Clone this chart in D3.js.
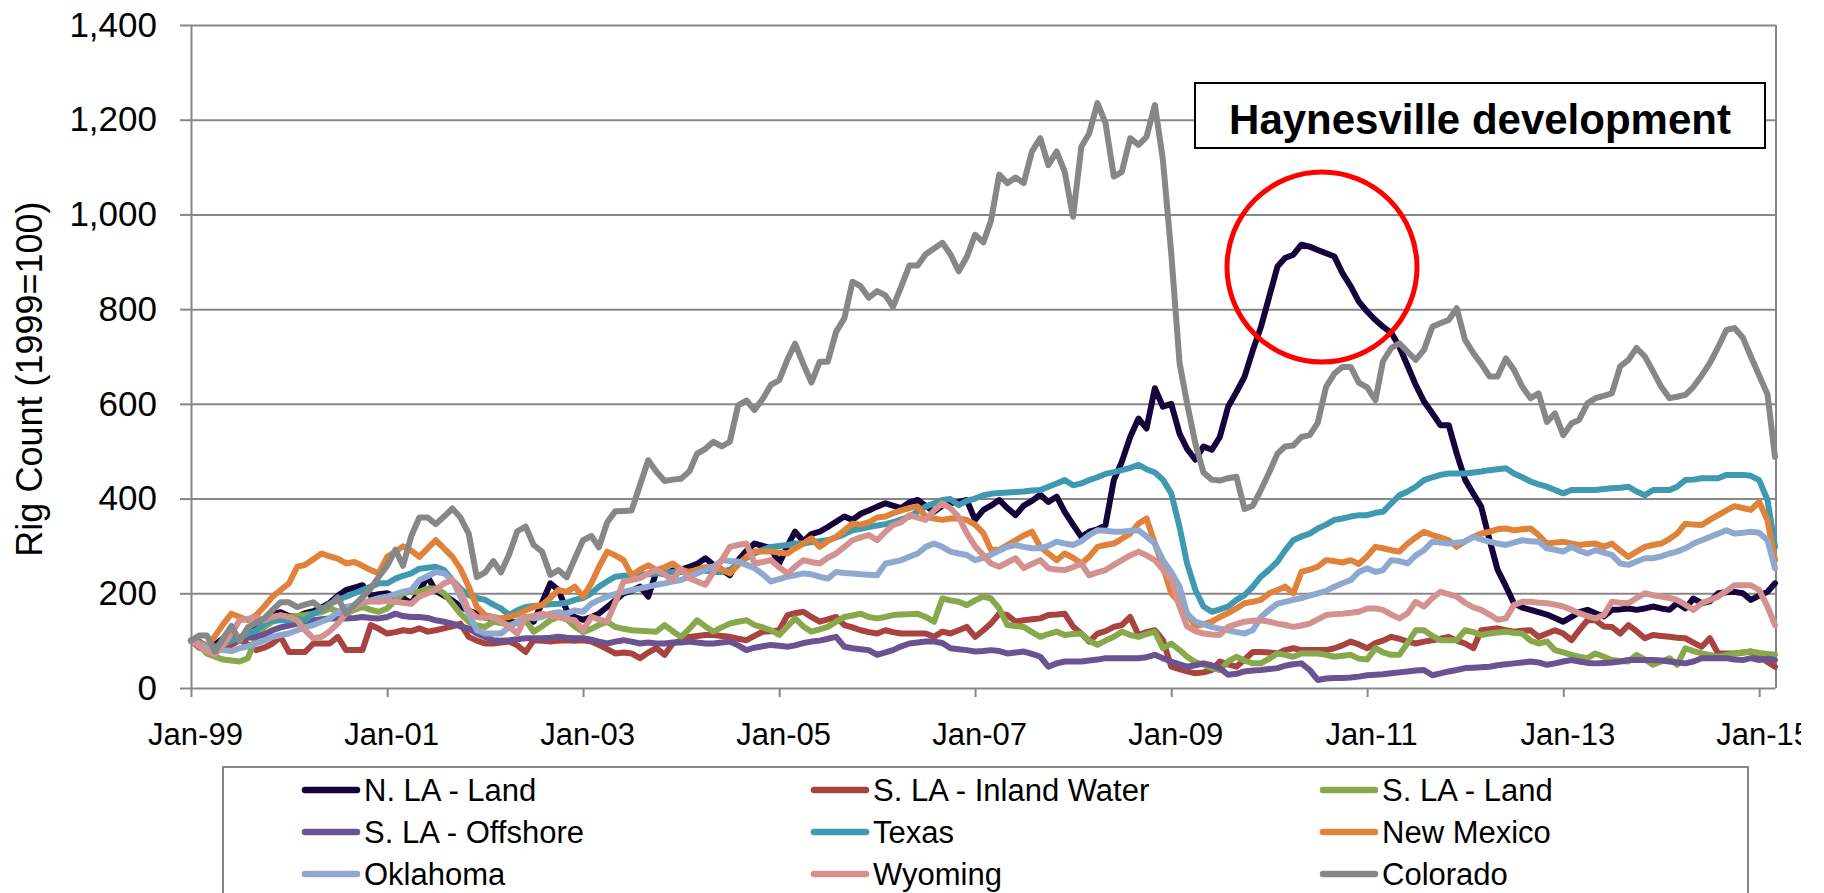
<!DOCTYPE html>
<html>
<head>
<meta charset="utf-8">
<script src="https://cdnjs.cloudflare.com/ajax/libs/d3/7.8.5/d3.min.js"></script>
<style>
    body { margin: 0; background: #fff; }
    text { font-family: Arial, "Liberation Sans", sans-serif; fill: #000; }
</style>
</head>
<body>
<div id="chart"></div>
<script>

/*
Data - monthly rig counts indexed to 1999=100, Jan-99 .. Mar-15
 */

var months = d3.timeMonth.range(new Date(1999, 0, 1), new Date(2015, 3, 1));

var nlaLand = [
    100, 98, 82, 92, 105, 112, 102, 118, 128, 140, 157, 160,
    152, 150, 158, 162, 170, 180, 195, 207, 212, 217, 195, 198,
    200, 193, 190, 179, 205, 235, 205, 195, 185, 172, 163, 157,
    150, 143, 145, 140, 138, 142, 140, 180, 221, 207, 164, 150,
    144, 150, 157, 171, 185, 200, 205, 214, 193, 245, 240, 248,
    250, 256, 262, 274, 260, 250, 238, 270, 290, 305, 300, 295,
    263, 300, 330, 310, 325, 330, 340, 351, 362, 355, 368, 375,
    383, 390, 385, 380, 392, 397, 385, 372, 385, 390, 393, 397,
    355, 376, 385, 397, 380, 365, 385, 395, 408, 393, 404, 372,
    345, 319, 330, 335, 344, 439, 478, 530, 569, 548, 633, 594,
    600, 537, 505, 482, 510, 503, 530, 594, 625, 657, 713, 762,
    826, 890, 908, 915, 936, 932, 925, 918, 911, 876, 848, 816,
    795, 777, 763, 750, 721, 680, 640, 605, 580, 555, 555, 495,
    440, 410, 383, 313, 250, 215, 179, 170, 165, 160, 155, 148,
    140, 150, 160, 165, 158, 151, 165, 166, 168, 165, 168, 172,
    168, 165, 179, 168, 189, 179, 183, 200, 202, 203, 200, 186,
    195, 203, 221
];

var slaInlandWater = [
    100, 85, 80, 80, 85, 91, 101, 92, 80, 85, 94, 108,
    76, 76, 76, 94, 94, 94, 108, 80, 80, 80, 133, 125,
    115, 118, 122, 120, 126, 119, 122, 126, 130, 136, 108, 100,
    94, 94, 96, 98, 90, 76, 101, 100, 98, 100, 101, 100,
    101, 98, 91, 82, 73, 75, 73, 63, 75, 84, 70, 94,
    100, 108, 110, 112, 112, 110, 108, 104, 101, 110, 119, 120,
    122, 154, 158, 161, 150, 140, 145, 150, 133, 128, 122, 118,
    115, 122, 118, 115, 115, 115, 115, 108, 119, 115, 122, 129,
    108, 122, 136, 157, 154, 140, 143, 145, 147, 154, 155, 157,
    130, 115, 98, 115, 120, 129, 133, 150, 112, 118, 122, 101,
    45, 40, 35, 31, 33, 38, 56, 50, 45, 60, 76, 76,
    75, 73, 80, 84, 80, 80, 80, 80, 84, 90, 98, 92,
    84, 95, 100, 108, 104, 98, 94, 98, 101, 104, 108, 100,
    94, 84, 122, 124, 126, 122, 119, 121, 122, 108, 115, 122,
    115, 101, 122, 143, 143, 130, 129, 115, 133, 120, 105, 112,
    110, 108, 106, 105, 96, 87, 105, 73, 73, 73, 75, 77,
    66, 55, 45
];

var slaLand = [
    100, 90, 73, 66, 60, 58, 56, 63, 108, 129, 140, 145,
    150, 152, 154, 157, 160, 168, 162, 157, 165, 171, 165, 161,
    168, 185, 200, 203, 203, 210, 210, 200, 178, 157, 140, 132,
    129, 140, 137, 133, 138, 143, 119, 130, 143, 150, 145, 130,
    118, 125, 133, 140, 129, 125, 122, 121, 120, 119, 133, 120,
    108, 125, 143, 130, 119, 128, 136, 140, 143, 133, 128, 122,
    112, 130, 147, 130, 119, 124, 129, 140, 150, 153, 157, 150,
    147, 150, 154, 155, 156, 157, 150, 140, 189, 185, 182, 175,
    185, 193, 189, 168, 133, 131, 129, 118, 108, 114, 119, 112,
    114, 115, 100, 91, 100, 108, 119, 112, 108, 114, 119, 84,
    94, 80, 66, 55, 49, 42, 38, 56, 66, 58, 52, 52,
    62, 73, 70, 66, 73, 73, 73, 70, 66, 68, 70, 62,
    60, 84, 75, 70, 70, 95, 122, 122, 110, 101, 101, 101,
    122, 118, 112, 115, 117, 119, 116, 115, 100, 94, 98, 80,
    75, 70, 66, 63, 73, 66, 59, 57, 56, 70, 60, 49,
    56, 63, 49, 84, 78, 73, 70, 66, 70, 73, 75, 77,
    74, 72, 70
];

var slaOffshore = [
    100, 92, 85, 88, 95, 101, 103, 106, 108, 113, 122, 128,
    132, 136, 140, 143, 145, 147, 147, 147, 148, 150, 148, 147,
    150, 157, 152, 150, 150, 148, 143, 140, 136, 130, 126, 115,
    108, 101, 100, 101, 103, 105, 105, 105, 106, 108, 106, 105,
    105, 102, 98, 94, 98, 101, 98, 94, 96, 94, 94, 96,
    96, 98, 96, 94, 94, 96, 98, 90, 80, 85, 88, 91,
    89, 87, 90, 95, 98, 100, 104, 108, 87, 84, 82, 80,
    70, 75, 80, 88, 94, 96, 98, 98, 95, 84, 82, 80,
    77, 78, 80, 78, 73, 75, 77, 72, 66, 45, 52, 56,
    56, 56, 58, 60, 63, 63, 63, 63, 63, 65, 70, 63,
    56, 50, 45, 48, 52, 48, 42, 28, 30, 35, 37, 38,
    40, 42, 47, 50, 52, 38, 17, 20, 21, 21, 22, 24,
    27, 28, 29, 31, 33, 35, 37, 38, 27, 31, 35, 38,
    42, 43, 44, 45, 48, 50, 52, 54, 56, 54, 49, 52,
    56, 59, 56, 53, 52, 53, 54, 56, 59, 59, 59, 59,
    58, 56, 54, 52, 56, 63, 63, 63, 63, 60, 59, 63,
    59, 62, 59
];

var texas = [
    100, 97, 90, 85, 92, 100, 107, 115, 122, 135, 143, 143,
    143, 145, 143, 157, 165, 178, 185, 193, 200, 207, 214, 221,
    221, 231, 237, 242, 252, 254, 256, 249, 228, 210, 196, 190,
    186, 176, 168, 154, 164, 171, 173, 175, 177, 178, 180, 186,
    190, 200, 214, 225, 235, 237, 238, 240, 240, 242, 243, 245,
    245, 245, 246, 248, 245, 245, 250, 262, 275, 284, 292, 298,
    300, 302, 305, 305, 308, 310, 312, 318, 325, 333, 336, 340,
    343, 346, 350, 356, 362, 372, 383, 390, 397, 399, 386, 395,
    400, 407, 410, 412, 413, 414, 415, 417, 418, 425, 432, 439,
    428, 432, 439, 445, 452, 456, 460, 465, 471, 462, 455, 440,
    411, 340, 263, 207, 172, 161, 166, 172, 186, 196, 214, 235,
    250, 267, 290, 312, 320, 326, 337, 345, 355, 358, 362, 365,
    365, 370, 372, 390, 407, 415, 425, 439, 445, 450, 453, 453,
    453, 455, 457, 460, 462, 464, 453, 445, 436, 430, 425, 418,
    411, 418, 418, 418, 418, 420, 422, 423, 425, 415, 407, 418,
    418, 418, 425, 439, 440, 443, 443, 443, 450, 450, 450, 448,
    439, 397, 298
];

var newMexico = [
    100, 95, 88, 110, 135, 157, 150, 143, 154, 172, 193, 207,
    221, 256, 260, 272, 284, 278, 273, 263, 266, 258, 249, 242,
    277, 288, 299, 290, 277, 295, 312, 295, 277, 252, 214, 172,
    154, 150, 147, 150, 155, 164, 171, 175, 190, 207, 203, 214,
    193, 221, 255, 288, 280, 270, 238, 250, 259, 249, 255, 263,
    250, 245, 250, 255, 256, 250, 242, 260, 277, 288, 288, 288,
    286, 284, 295, 305, 316, 298, 310, 319, 333, 347, 345, 350,
    360, 362, 369, 375, 380, 383, 362, 358, 355, 358, 358, 355,
    345, 327, 292, 292, 302, 312, 322, 330, 298, 284, 270, 284,
    275, 263, 277, 298, 302, 305, 315, 326, 347, 358, 305, 256,
    200, 180, 158, 130, 135, 140, 150, 158, 168, 179, 182, 186,
    200, 207, 214, 200, 245, 250, 256, 270, 268, 265, 270, 262,
    278, 298, 295, 291, 288, 305, 318, 330, 323, 318, 312, 298,
    310, 319, 326, 330, 335, 337, 333, 335, 337, 323, 305, 307,
    309, 305, 302, 304, 305, 298, 305, 290, 277, 288, 298, 302,
    305, 315, 326, 347, 345, 344, 355, 365, 375, 384, 380, 376,
    393, 354, 270
];

var oklahoma = [
    100, 92, 85, 81, 80, 78, 84, 88, 94, 100, 108, 112,
    115, 122, 128, 133, 140, 147, 160, 171, 175, 178, 185, 190,
    193, 198, 203, 207, 228, 236, 245, 242, 228, 193, 157, 122,
    115, 115, 115, 129, 140, 150, 147, 150, 157, 160, 157, 164,
    161, 178, 186, 193, 198, 203, 207, 210, 214, 218, 221, 225,
    228, 235, 242, 250, 256, 270, 268, 267, 260, 253, 240, 225,
    230, 235, 238, 242, 240, 235, 231, 245, 243, 242, 240, 239,
    238, 263, 266, 270, 277, 284, 298, 305, 298, 288, 284, 281,
    270, 275, 281, 290, 298, 302, 298, 295, 295, 300, 309, 305,
    302, 310, 323, 333, 332, 330, 330, 332, 333, 320, 305, 270,
    245, 214, 157, 140, 135, 129, 125, 122, 118, 115, 122, 150,
    165, 178, 182, 186, 190, 195, 200, 205, 214, 221, 228, 245,
    253, 245, 249, 270, 268, 263, 280, 291, 309, 307, 305, 307,
    309, 319, 314, 309, 305, 302, 307, 312, 310, 309, 295, 292,
    288, 298, 290, 284, 291, 286, 281, 263, 260, 267, 274, 274,
    278, 284, 288, 295, 305, 312, 319, 326, 333, 326, 328, 330,
    328, 312, 253
];

var wyoming = [
    100, 88, 78, 71, 91, 115, 143, 146, 150, 143, 150, 154,
    150, 143, 122, 105, 108, 120, 136, 157, 171, 182, 183, 182,
    184, 182, 180, 178, 193, 200, 207, 221, 228, 205, 164, 150,
    148, 150, 140, 129, 115, 150, 152, 157, 153, 150, 146, 143,
    122, 150, 145, 140, 180, 225, 228, 232, 242, 249, 240, 228,
    252, 232, 225, 218, 245, 270, 298, 302, 305, 263, 266, 270,
    255, 242, 256, 270, 266, 263, 275, 284, 298, 312, 318, 323,
    312, 330, 344, 350, 365, 360, 355, 375, 390, 380, 361, 327,
    299, 280, 263, 256, 265, 274, 253, 262, 270, 253, 250, 249,
    255, 263, 238, 244, 249, 260, 270, 280, 288, 280, 270, 250,
    228, 172, 130, 120, 115, 113, 112, 129, 135, 140, 142, 143,
    140, 136, 133, 129, 132, 136, 145, 154, 156, 157, 159, 161,
    168, 168, 165, 155, 147, 158, 182, 172, 190, 203, 198, 193,
    180, 170, 165, 155, 144, 147, 175, 182, 182, 180, 179, 176,
    172, 165, 158, 152, 147, 154, 182, 180, 179, 190, 200, 196,
    193, 190, 186, 176, 165, 179, 186, 193, 205, 217, 217, 217,
    207, 172, 133
];

var colorado = [
    100, 111, 111, 77, 105, 131, 99, 128, 138, 147, 165, 181,
    181, 171, 176, 181, 167, 175, 191, 157, 175, 192, 210, 235,
    258, 292, 258, 321, 360, 360, 346, 362, 379, 360, 326, 234,
    244, 268, 244, 283, 331, 341, 302, 288, 239, 249, 234, 273,
    312, 321, 297, 350, 373, 374, 375, 428, 481, 457, 437, 440,
    442, 457, 495, 505, 520, 510, 520, 597, 607, 587, 611, 640,
    650, 694, 727, 684, 645, 689, 689, 752, 781, 858, 848, 824,
    838, 829, 805, 848, 892, 892, 916, 928, 940, 916, 880, 910,
    957, 941, 986, 1084, 1066, 1078, 1066, 1133, 1161, 1104, 1133, 1090,
    995, 1143, 1171, 1235, 1193, 1080, 1090, 1161, 1147, 1164, 1231, 1115,
    918, 686, 601, 516, 455, 440, 438, 443, 446, 378, 385, 418,
    455, 495, 510, 512, 530, 534, 560, 636, 664, 678, 678, 645,
    635, 608, 690, 718, 728, 710, 693, 714, 763, 770, 777, 802,
    735, 707, 685, 658, 658, 696, 672, 636, 612, 622, 562, 580,
    534, 559, 566, 601, 612, 617, 622, 679, 693, 718, 700, 669,
    636, 612, 615, 619, 636, 660, 686, 720, 756, 760, 740, 700,
    660, 620, 488
];

var seriesNames = ["N. LA - Land", "S. LA - Inland Water", "S. LA - Land",
    "S. LA - Offshore", "Texas", "New Mexico", "Oklahoma", "Wyoming", "Colorado"];
var seriesValues = [nlaLand, slaInlandWater, slaLand, slaOffshore,
    texas, newMexico, oklahoma, wyoming, colorado];
var seriesColors = ["#17033b", "#a9433f", "#87a84b", "#6b5391",
    "#3f99b1", "#e0823a", "#8ea8d0", "#d39190", "#878787"];

var yTicks = [0, 200, 400, 600, 800, 1000, 1200, 1400];
var xTickYears = [1999, 2001, 2003, 2005, 2007, 2009, 2011, 2013, 2015];

var annotationText = "Haynesville development";
var yTitle = "Rig Count (1999=100)";

/*
Chart
 */

var plotLeft = 191, plotRight = 1776, plotTop = 25, plotBottom = 688;
var gridColor = "#878787";

var svg = d3.select("#chart")
    .append("svg")
    .attr("width", 1824)
    .attr("height", 893)
    .style("display", "block")
    .style("background", "#fff");

var x = d3.scaleTime()
    .domain([months[0], months[months.length - 1]])
    .range([plotLeft, plotRight - 1]);

var y = d3.scaleLinear()
    .domain([0, 1400])
    .range([plotBottom, plotTop]);

//gridlines (drawn with an axis, no labels)
svg.append("g")
    .attr("transform", "translate(" + plotLeft + ",0)")
    .call(d3.axisLeft(y).tickValues(yTicks.slice(1)).tickSize(-(plotRight - plotLeft)).tickSizeOuter(0).tickFormat(""))
    .call(function(g) {
        g.select(".domain").remove();
        g.selectAll("line").attr("stroke", gridColor).attr("stroke-width", 2);
    });

//right border of the plot area
svg.append("line")
    .attr("x1", plotRight).attr("x2", plotRight)
    .attr("y1", plotTop).attr("y2", plotBottom)
    .attr("stroke", gridColor)
    .attr("stroke-width", 2);

//y axis
svg.append("g")
    .attr("transform", "translate(" + plotLeft + ",0)")
    .call(d3.axisLeft(y).tickValues(yTicks).tickSize(11).tickSizeOuter(0).tickPadding(23).tickFormat(d3.format(",")))
    .call(function(g) {
        g.select(".domain").attr("stroke", gridColor).attr("stroke-width", 2);
        g.selectAll("line").attr("stroke", gridColor).attr("stroke-width", 2);
        g.selectAll("text")
            .style("font-size", "35px")
            .style("font-family", "Arial, 'Liberation Sans', sans-serif")
            .attr("fill", "#000");
    });

//x axis - the last label is cut off at the picture edge, as in the original
svg.append("clipPath")
    .attr("id", "xclip")
    .append("rect")
    .attr("x", 0).attr("y", -20)
    .attr("width", 1801).attr("height", 120);

svg.append("g")
    .attr("transform", "translate(0," + plotBottom + ")")
    .attr("clip-path", "url(#xclip)")
    .call(d3.axisBottom(x)
        .tickValues(xTickYears.map(function(yr) { return new Date(yr, 0, 1); }))
        .tickSize(9).tickSizeOuter(0).tickPadding(26)
        .tickFormat(d3.timeFormat("%b-%y")))
    .call(function(g) {
        g.select(".domain").attr("stroke", gridColor).attr("stroke-width", 2);
        g.selectAll("line").attr("stroke", gridColor).attr("stroke-width", 2);
        g.selectAll("text")
            .attr("dx", 4)
            .style("font-size", "31px")
            .style("font-family", "Arial, 'Liberation Sans', sans-serif")
            .attr("fill", "#000");
    });

//y axis title
svg.append("text")
    .attr("transform", "translate(42,379) rotate(-90)")
    .attr("text-anchor", "middle")
    .style("font-size", "36px")
    .text(yTitle);

//series lines, Colorado last so it sits on top
var line = d3.line()
    .x(function(d, i) { return x(months[i]); })
    .y(function(d) { return y(d); });

svg.append("g")
    .selectAll("path")
    .data(seriesValues)
    .enter()
    .append("path")
    .attr("d", line)
    .attr("fill", "none")
    .attr("stroke", function(d, i) { return seriesColors[i]; })
    .attr("stroke-width", 6)
    .attr("stroke-linejoin", "round")
    .attr("stroke-linecap", "round");

//annotation box
svg.append("rect")
    .attr("x", 1195).attr("y", 83)
    .attr("width", 570).attr("height", 65)
    .attr("fill", "#fff")
    .attr("stroke", "#000")
    .attr("stroke-width", 2);

svg.append("text")
    .attr("x", 1480).attr("y", 134)
    .attr("text-anchor", "middle")
    .style("font-size", "42px")
    .style("font-weight", "bold")
    .text(annotationText);

//red circle round the N. LA peak
svg.append("ellipse")
    .attr("cx", 1322).attr("cy", 267)
    .attr("rx", 95).attr("ry", 95)
    .attr("fill", "none")
    .attr("stroke", "#ff0000")
    .attr("stroke-width", 5);

//legend
var legendCols = [302, 811, 1320];
var legendRows = [790, 832, 874];

svg.append("rect")
    .attr("x", 223).attr("y", 767)
    .attr("width", 1525).attr("height", 150)
    .attr("fill", "none")
    .attr("stroke", gridColor)
    .attr("stroke-width", 2);

var legendItems = svg.append("g")
    .selectAll("g")
    .data(seriesNames)
    .enter()
    .append("g")
    .attr("transform", function(d, i) {
        return "translate(" + legendCols[i % 3] + "," + legendRows[Math.floor(i / 3)] + ")";
    });

legendItems.append("line")
    .attr("x1", 3).attr("x2", 55)
    .attr("y1", 0).attr("y2", 0)
    .attr("stroke", function(d, i) { return seriesColors[i]; })
    .attr("stroke-width", 6.5)
    .attr("stroke-linecap", "round");

legendItems.append("text")
    .attr("x", 62)
    .attr("dy", "0.35em")
    .style("font-size", "31px")
    .text(function(d) { return d; });

</script>
</body>
</html>
